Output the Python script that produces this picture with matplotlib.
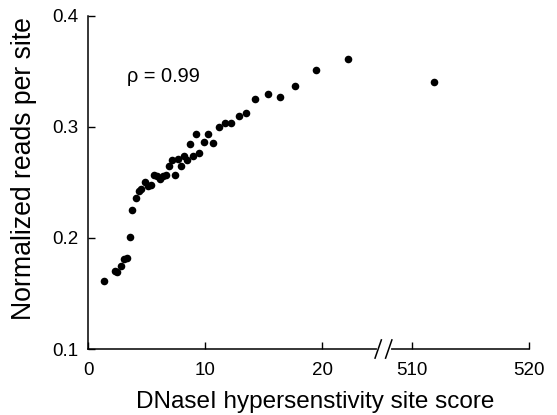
import numpy as np
import matplotlib.pyplot as plt

plt.rcParams['font.family'] = ['Liberation Sans', 'DejaVu Sans']

# DHS score vs normalized read depth
score = [1.35, 2.29, 2.50, 2.78, 3.06, 3.29, 3.55, 3.80, 4.06, 4.34,
         4.57, 4.85, 5.11, 5.37, 5.62, 5.91, 6.14, 6.41, 6.68, 6.95,
         7.20, 7.45, 7.69, 7.97, 8.23, 8.48, 8.74, 9.00, 9.27, 9.51,
         9.90, 10.26, 10.68, 11.20, 11.71, 12.22, 12.89, 13.53, 14.30, 15.34,
         16.37, 17.69, 19.49, 22.21, 511.9]
reads = [0.161, 0.170, 0.169, 0.175, 0.181, 0.182, 0.201, 0.225, 0.236, 0.242,
         0.244, 0.250, 0.247, 0.248, 0.257, 0.256, 0.253, 0.256, 0.257, 0.265,
         0.270, 0.257, 0.271, 0.265, 0.274, 0.270, 0.284, 0.274, 0.293, 0.276,
         0.286, 0.293, 0.285, 0.300, 0.303, 0.303, 0.310, 0.312, 0.325, 0.329,
         0.327, 0.337, 0.351, 0.361, 0.340]

xticks = [0, 10, 20, 510, 520]
yticks = [0.1, 0.2, 0.3, 0.4]
rho = 0.99

# broken x axis: everything past the gap is shifted left
shift = 482.3
def squash(v):
    v = np.asarray(v, dtype=float)
    return np.where(v > 100, v - shift, v)

fig = plt.figure(figsize=(5.57, 4.15), dpi=100)
ax = fig.add_axes([0.158, 0.159, 0.792, 0.8035])

ax.scatter(squash(score), reads, s=30, color='black', linewidths=0, zorder=4)

ax.set_xlim(0, 520 - shift)
ax.set_ylim(0.1, 0.4)
ax.set_xticks(squash(xticks))
ax.set_xticklabels([str(t) for t in xticks])
ax.set_yticks(yticks)
ax.set_yticklabels([f'{t:.1f}' for t in yticks])

for s in ['top', 'right']:
    ax.spines[s].set_visible(False)
for s in ['left', 'bottom']:
    ax.spines[s].set_linewidth(1.1)
ax.tick_params(direction='in', length=5, width=1.0, labelsize=13.5)
ax.tick_params(axis='x', pad=9)
ax.tick_params(axis='y', pad=7)

ax.set_xlabel('DNaseI hypersenstivity site score', fontsize=17.5)
ax.set_ylabel('Normalized reads per site', fontsize=19.2)
ax.xaxis.set_label_coords(0.515, -0.127)
ax.yaxis.set_label_coords(-0.116, 0.54)

ax.text(3.3, 0.345, f'\u03c1 = {rho:.2f}', fontsize=14.4, va='center', ha='left')

# axis break marks
ax.plot([24.85, 25.75], [0.1, 0.1], color='white', lw=3, zorder=5, clip_on=False)
for c in [24.8, 25.7]:
    ax.plot([c - 0.27, c + 0.27], [0.1 - 0.0082, 0.1 + 0.0082], color='black',
            lw=1.1, zorder=6, clip_on=False)

fig.savefig('out.png', dpi=100)
